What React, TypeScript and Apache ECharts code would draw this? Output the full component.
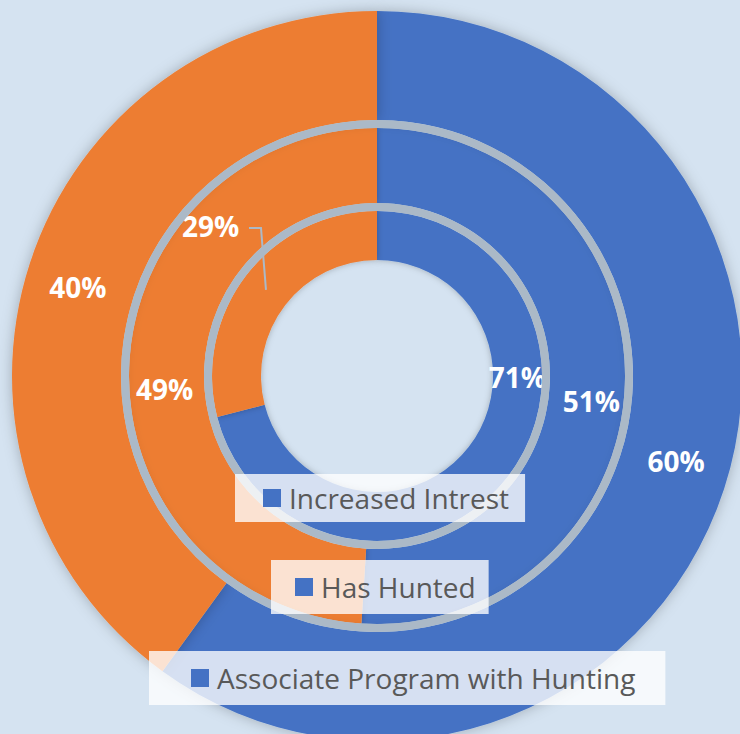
import React, { useEffect, useRef } from "react";
import * as echarts from "echarts";

// Series (rings), from inner to outer
const seriesNames = ["Increased Intrest", "Has Hunted", "Associate Program with Hunting"];
const yesValues = [71, 51, 60]; // blue share
const noValues = [29, 49, 40]; // orange share
const noName = "No";

const BLUE = "#4472c4";
const ORANGE = "#ed7d31";
const GRAY = "#abb9c7";
const BG = "#d5e3f1";
const FONT = "'Open Sans', Lato, sans-serif";

export default function App() {
  const ref = useRef<HTMLDivElement>(null);
  useEffect(() => {
    if (!ref.current) return;
    const chart = echarts.init(ref.current, undefined, { renderer: "svg" });
    const cx = 377;
    const cy = 376;
    const center = [cx, cy];
    const radii = [
      [116, 165],
      [173, 248],
      [256, 365],
    ];
    // manual label nudges (dx, dy) per ring and data item
    const nudges = [
      [
        [27, -87],
        [-53, -62],
      ],
      [
        [1, 18],
        [1, 20],
      ],
      [
        [1, -12],
        [-1, 8],
      ],
    ];
    const labelBase = {
      show: true,
      position: "inside",
      formatter: "{c}%",
      color: "#ffffff",
      fontWeight: "bold",
      fontSize: 28,
      fontFamily: FONT,
    };
    const ringSeries = seriesNames.map((name, i) => ({
      type: "pie",
      name,
      center,
      radius: radii[i],
      startAngle: 90,
      clockwise: true,
      avoidLabelOverlap: false,
      z: 3,
      itemStyle: {
        shadowBlur: i === 2 ? 14 : 6,
        shadowColor: "rgba(0,0,0,0.25)",
      },
      label: labelBase,
      labelLine: { show: false },
      labelLayout: (p: any) => ({ dx: nudges[i][p.dataIndex][0], dy: nudges[i][p.dataIndex][1] }),
      emphasis: { disabled: true },
      data: [
        { name, value: yesValues[i], itemStyle: { color: BLUE } },
        { name: noName, value: noValues[i], itemStyle: { color: ORANGE } },
      ],
    }));
    const grayRings = [
      [165, 173],
      [248, 256],
    ].map((r) => ({
      type: "pie",
      center,
      radius: r,
      silent: true,
      z: 4,
      label: { show: false },
      labelLine: { show: false },
      emphasis: { disabled: true },
      data: [{ name: "ring", value: 1, itemStyle: { color: GRAY } }],
    }));

    // leader line for the inner ring's orange slice: from the slice's mid point to its moved label
    const total0 = yesValues[0] + noValues[0];
    const midDeg = 90 - (yesValues[0] / total0) * 360 - (noValues[0] / total0) * 180;
    const rMid = (radii[0][0] + radii[0][1]) / 2;
    const sx = cx + rMid * Math.cos((midDeg * Math.PI) / 180);
    const sy = cy - rMid * Math.sin((midDeg * Math.PI) / 180);
    const ly = sy + nudges[0][1][1];

    const legendBoxes = [
      { left: 235, top: 474, padding: [10, 16, 10, 28] },
      { left: 271, top: 560, padding: [13, 13, 13, 24] },
      { left: 149, top: 651, padding: [13, 30, 13, 42] },
    ];
    const legends = seriesNames.map((name, i) => ({
      data: [{ name, itemStyle: { color: BLUE } }],
      left: legendBoxes[i].left,
      top: legendBoxes[i].top,
      padding: legendBoxes[i].padding,
      orient: "horizontal",
      backgroundColor: "rgba(255,255,255,0.78)",
      icon: "rect",
      itemWidth: 18,
      itemHeight: 18,
      selectedMode: false,
      z: 10,
      itemStyle: { color: BLUE },
      textStyle: {
        fontSize: 28,
        lineHeight: 28,
        color: "#595959",
        fontFamily: FONT,
        padding: [0, 0, 0, 3],
      },
    }));

    chart.setOption({
      animation: false,
      backgroundColor: BG,
      legend: legends,
      series: [...ringSeries, ...grayRings],
      graphic: [
        {
          type: "polyline",
          z: 8,
          silent: true,
          shape: {
            points: [
              [sx, sy],
              [sx - 5, ly],
              [sx - 17, ly],
            ],
          },
          style: { stroke: GRAY, lineWidth: 2, fill: null },
        },
      ],
    });
    return () => chart.dispose();
  }, []);
  return (
    <div
      ref={ref}
      style={{ position: "absolute", left: 0, top: 0, width: 740, height: 734 }}
    />
  );
}
